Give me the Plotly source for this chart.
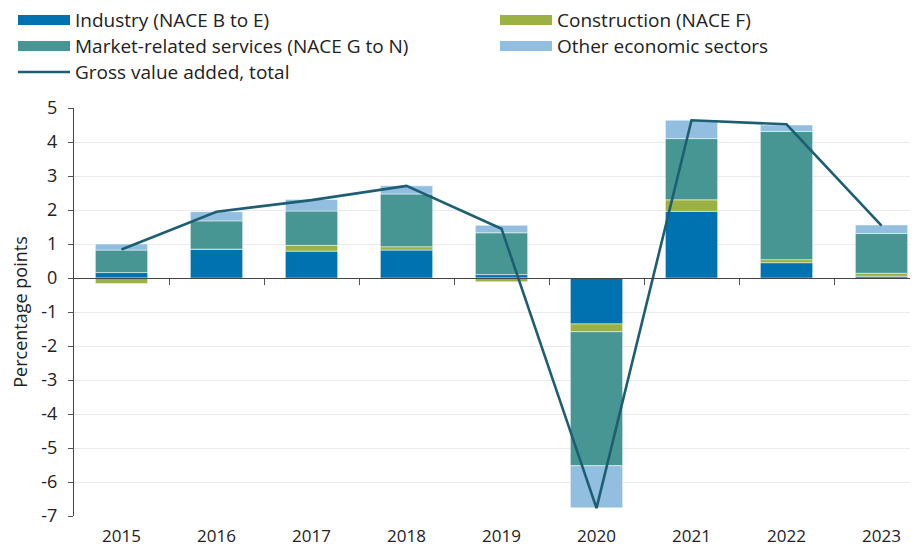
import plotly.graph_objects as go

years = ["2015", "2016", "2017", "2018", "2019", "2020", "2021", "2022", "2023"]
industry = [0.16, 0.85, 0.79, 0.82, 0.10, -1.35, 1.96, 0.45, 0.05]
construction = [-0.16, 0.0, 0.17, 0.10, -0.11, -0.23, 0.34, 0.09, 0.09]
market_services = [0.66, 0.83, 1.01, 1.55, 1.23, -3.94, 1.80, 3.77, 1.17]
other_sectors = [0.18, 0.27, 0.34, 0.24, 0.22, -1.24, 0.54, 0.19, 0.25]
gva_total = [0.84, 1.95, 2.29, 2.71, 1.45, -6.77, 4.64, 4.52, 1.54]
y_ticks = [-7, -6, -5, -4, -3, -2, -1, 0, 1, 2, 3, 4, 5]
y_tick_labels = ["-7", "-6", "-5", "-4", "-3", "-2", "-1", "0", "1", "2", "3", "4", "5"]

names = ["Industry (NACE B to E)", "Construction (NACE F)",
         "Market-related services (NACE G to N)", "Other economic sectors",
         "Gross value added, total"]
colors = ["#0072B0", "#9BB143", "#479694", "#92BFE0", "#1E5E72"]

FONT = "Open Sans"
OFF = 8  # page body margin
W, H = 918 - OFF, 548 - OFF
ML, MT = 74 - OFF, 108 - OFF
PW = W - ML
PH = (516 - OFF) - MT
MR, MB = 0, H - MT - PH

fig = go.Figure()
xs = list(range(len(years)))
for vals, name, col in zip([industry, construction, market_services, other_sectors], names[:4], colors[:4]):
    fig.add_trace(go.Bar(x=xs, y=vals, name=name,
                         marker=dict(color=col, line=dict(color="rgba(255,255,255,0.6)", width=0.8)),
                         width=0.55, showlegend=False))
fig.add_trace(go.Scatter(x=xs, y=gva_total, name=names[4], mode="lines",
                         line=dict(color=colors[4], width=2.6), showlegend=False))
# helper axis for the zero line with category separators
fig.add_trace(go.Scatter(x=[0], y=[0], xaxis="x2", yaxis="y", mode="markers",
                         marker=dict(opacity=0), showlegend=False, hoverinfo="skip"))

xr = [-0.5, -0.5 + PW / 95.0]
fig.update_layout(
    width=W, height=H, margin=dict(l=ML, r=MR, t=MT, b=MB, autoexpand=False),
    paper_bgcolor="white", plot_bgcolor="white",
    barmode="relative",
    font=dict(family=FONT, size=16, color="#222222"),
    xaxis=dict(range=xr, tickmode="array", tickvals=xs, ticktext=years, showgrid=False,
               zeroline=False, showline=False, ticks="", ticklabelstandoff=8, automargin=False,
               tickfont=dict(family=FONT, size=17, color="#222222")),
    xaxis2=dict(range=xr, overlaying="x", anchor="free", position=7.0 / 12.0, side="bottom",
                tickmode="array", tickvals=[i + 0.5 for i in range(8)], showticklabels=False,
                ticks="outside", ticklen=6, tickcolor="#555555", showline=True, linecolor="#444444",
                linewidth=1.2, showgrid=False, zeroline=False, automargin=False),
    yaxis=dict(range=[-7, 5], tickmode="array", tickvals=y_ticks, ticktext=y_tick_labels, showgrid=True,
               gridcolor="#EBEBEB", gridwidth=1, zeroline=False, showline=True, linecolor="#444444",
               linewidth=1, ticks="outside", ticklen=5, tickcolor="#555555", automargin=False,
               ticklabelstandoff=7,
               title=dict(text="Percentage points", standoff=18, font=dict(size=18)),
               tickfont=dict(size=18)),
)

def px(x):
    return (x - OFF - ML) / PW

def py(y):
    return (MT + PH - (y - OFF)) / PH

legend_pos = [(18, 20), (500, 20), (18, 46), (500, 46), (18, 72)]
shapes = []
annos = []
for i, ((lx, ly), name, col) in enumerate(zip(legend_pos, names, colors)):
    if i < 4:
        shapes.append(dict(type="rect", xref="paper", yref="paper", x0=px(lx), x1=px(lx + 52),
                           y0=py(ly + 5), y1=py(ly - 5), fillcolor=col, line=dict(width=0)))
    else:
        shapes.append(dict(type="line", xref="paper", yref="paper", x0=px(lx), x1=px(lx + 52),
                           y0=py(ly), y1=py(ly), line=dict(color=col, width=2.6)))
    annos.append(dict(xref="paper", yref="paper", x=px(lx + 55), y=py(ly), text=name, showarrow=False,
                      xanchor="left", yanchor="middle", font=dict(size=19, color="#222222")))
fig.update_layout(shapes=shapes, annotations=annos)

fig.write_html("out.html")
